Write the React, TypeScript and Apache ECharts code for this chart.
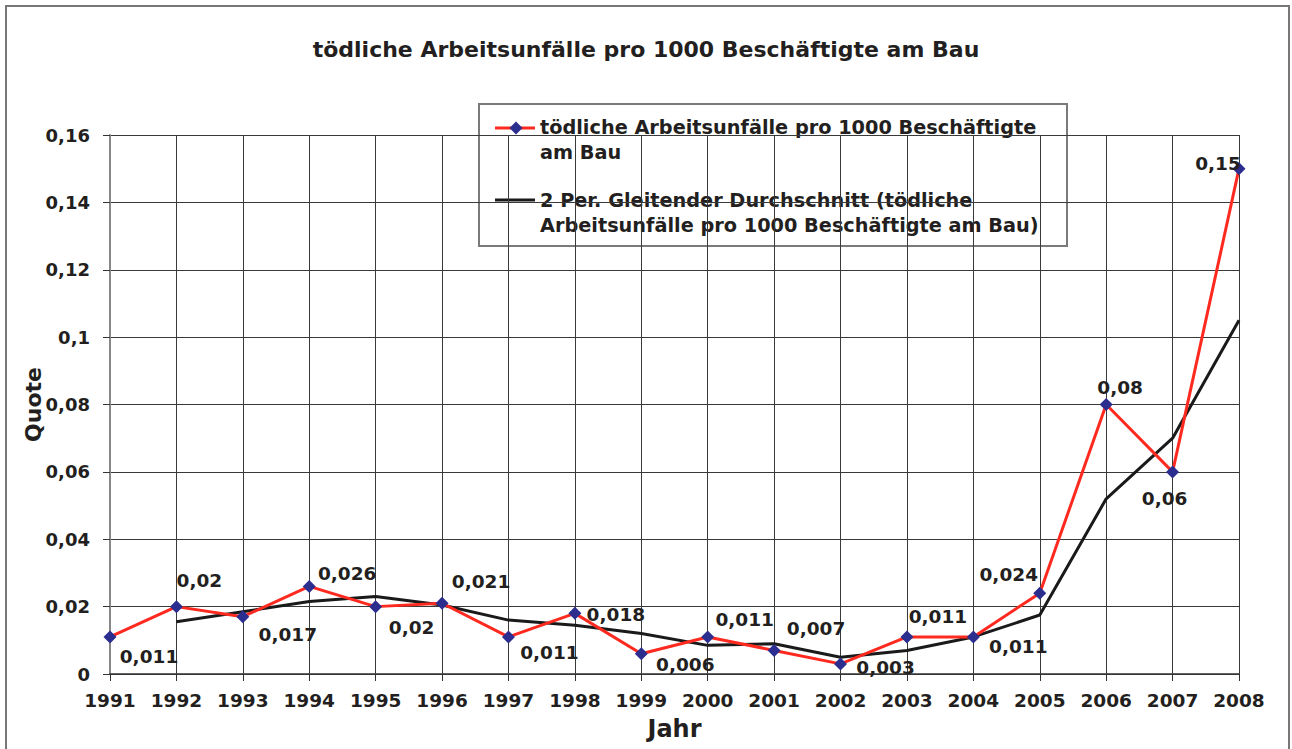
import React, { useEffect, useRef } from "react";
import * as echarts from "echarts";

const years = ["1991", "1992", "1993", "1994", "1995", "1996", "1997", "1998", "1999", "2000", "2001", "2002", "2003", "2004", "2005", "2006", "2007", "2008"];
const quote = [0.011, 0.02, 0.017, 0.026, 0.02, 0.021, 0.011, 0.018, 0.006, 0.011, 0.007, 0.003, 0.011, 0.011, 0.024, 0.08, 0.06, 0.15];
const movingAvg = [null, 0.0155, 0.0185, 0.0215, 0.023, 0.0205, 0.016, 0.0145, 0.012, 0.0085, 0.009, 0.005, 0.007, 0.011, 0.0175, 0.052, 0.07, 0.105];

const titleText = "tödliche Arbeitsunfälle pro 1000 Beschäftigte am Bau";
const legend1 = "tödliche Arbeitsunfälle pro 1000 Beschäftigte\nam Bau";
const legend2 = "2 Per. Gleitender Durchschnitt (tödliche\nArbeitsunfälle pro 1000 Beschäftigte am Bau)";

// label offsets (px) relative to each marker centre
const labelOffsets: [number, number][] = [
  [39, 20], [23, -26], [45, 18], [38, -13], [36, 21], [39, -22], [41, 16], [41, 1], [44, 11],
  [37, -17], [42, -22], [45, 4], [31, -20], [45, 10], [-31, -19], [14, -17], [-8, 27], [-21, -5],
];

const FONT = "'DejaVu Sans', Arial, sans-serif";
const TXT = "#231f20";
const fmt = (v: number) => String(v).replace(".", ",");

export default function App() {
  const ref = useRef<HTMLDivElement>(null);
  useEffect(() => {
    if (!ref.current) return;
    const chart = echarts.init(ref.current, null, { renderer: "svg" });
    chart.setOption({
      animation: false,
      backgroundColor: "#ffffff",
      textStyle: { fontFamily: FONT },
      title: {
        text: titleText,
        left: "center",
        top: 33,
        textStyle: { fontFamily: FONT, fontSize: 22, fontWeight: "bold", color: TXT },
      },
      grid: { left: 110, right: 53, top: 135, bottom: 75 },
      xAxis: {
        type: "category",
        data: years,
        boundaryGap: false,
        name: "Jahr",
        nameLocation: "middle",
        nameGap: 43,
        nameTextStyle: { fontFamily: FONT, fontSize: 24, fontWeight: "bold", color: TXT },
        axisLine: { lineStyle: { color: "#333", width: 1.5 } },
        axisTick: { show: true, interval: 0, length: 7, inside: false, lineStyle: { color: "#333" } },
        axisLabel: { interval: 0, hideOverlap: false, margin: 17, fontFamily: FONT, fontSize: 18.5, fontWeight: "bold", color: TXT },
        splitLine: { show: true, interval: 0, lineStyle: { color: "#3a3a3a", width: 1 } },
      },
      yAxis: {
        type: "value",
        min: 0,
        max: 0.16,
        interval: 0.02,
        name: "Quote",
        nameLocation: "middle",
        nameGap: 66,
        nameMoveOverlap: false,
        nameTextStyle: { fontFamily: FONT, fontSize: 22, fontWeight: "bold", color: TXT },
        axisLine: { show: true, lineStyle: { color: "#888", width: 2 } },
        axisTick: { show: true, length: 7, lineStyle: { color: "#333" } },
        axisLabel: { margin: 20, fontFamily: FONT, fontSize: 18, fontWeight: "bold", color: TXT, formatter: fmt },
        splitLine: { show: true, lineStyle: { color: "#3a3a3a", width: 1 } },
      },
      series: [
        {
          name: "Quote",
          type: "line",
          data: quote.map((v, i) => ({
            value: v,
            label: { offset: labelOffsets[i] },
          })),
          symbol: "diamond",
          symbolSize: 13,
          showAllSymbol: true,
          itemStyle: { color: "#2b2d8f" },
          lineStyle: { color: "#ff2a1f", width: 3 },
          z: 3,
          label: {
            show: true,
            position: "inside",
            align: "center",
            verticalAlign: "middle",
            formatter: (p: any) => fmt(p.value),
            fontFamily: FONT,
            fontSize: 18.5,
            fontWeight: "bold",
            color: TXT,
          },
        },
        {
          name: "Durchschnitt",
          type: "line",
          data: movingAvg,
          symbol: "none",
          lineStyle: { color: "#1a1a1a", width: 3 },
          z: 2,
        },
      ],
      graphic: [
        {
          type: "rect",
          shape: { x: 6, y: 6, width: 1283, height: 745 },
          style: { fill: "none", stroke: "#777", lineWidth: 2 },
          z: 0,
          silent: true,
        },
        {
          type: "group",
          z: 100,
          children: [
            {
              type: "rect",
              shape: { x: 479, y: 104, width: 588, height: 142 },
              style: { fill: "#fff", stroke: "#7a7a7a", lineWidth: 2 },
            },
            { type: "line", shape: { x1: 495, y1: 128, x2: 535, y2: 128 }, style: { stroke: "#ff2a1f", lineWidth: 3 } },
            {
              type: "polygon",
              shape: { points: [[516, 121.5], [522.5, 128], [516, 134.5], [509.5, 128]] },
              style: { fill: "#2b2d8f" },
            },
            {
              type: "text",
              x: 540,
              y: 115,
              style: { text: legend1, fontFamily: FONT, fontSize: 19.3, fontWeight: "bold", fill: TXT, lineHeight: 25 },
            },
            { type: "line", shape: { x1: 495, y1: 200, x2: 535, y2: 200 }, style: { stroke: "#1a1a1a", lineWidth: 3 } },
            {
              type: "text",
              x: 540,
              y: 188,
              style: { text: legend2, fontFamily: FONT, fontSize: 19.3, fontWeight: "bold", fill: TXT, lineHeight: 25 },
            },
          ],
        },
      ],
    });
    return () => chart.dispose();
  }, []);
  return <div ref={ref} style={{ position: "fixed", left: 0, top: 0, width: 1292, height: 749 }} />;
}
